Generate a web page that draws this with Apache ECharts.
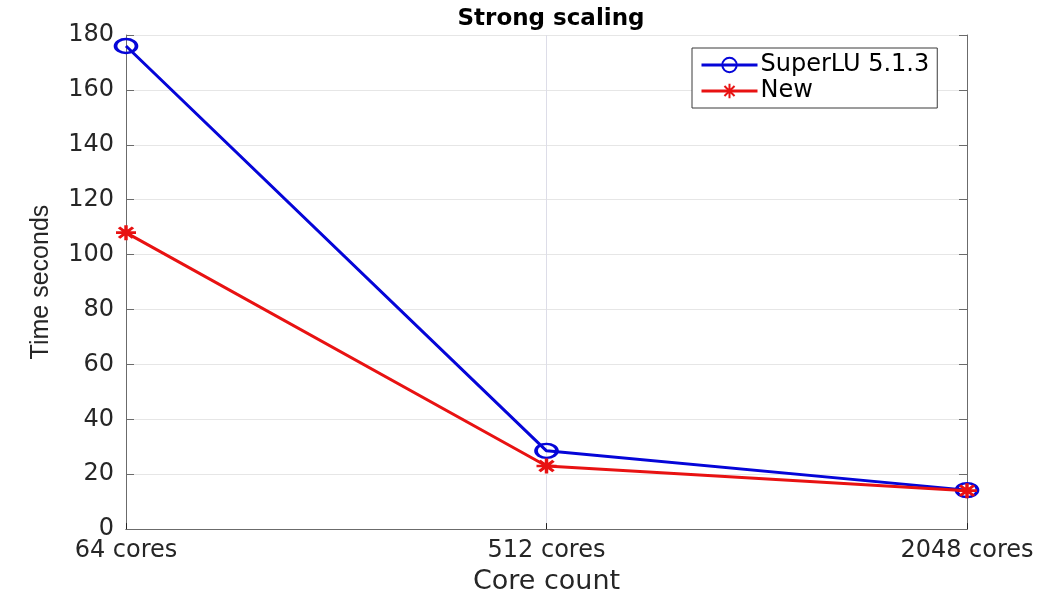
<!DOCTYPE html>
<html>
<head>
<meta charset="utf-8">
<script src="https://cdn.jsdelivr.net/npm/echarts@6/dist/echarts.min.js"></script>
<style>html,body{margin:0;padding:0;background:#fff;}#c{width:1063px;height:600px;}</style>
</head>
<body>
<div id="c"></div>
<script>
const categories = ['64 cores', '512 cores', '2048 cores'];
const superLU = [176, 28.5, 14.2];
const newMethod = [108, 23, 14];
const seriesNames = ['SuperLU 5.1.3', 'New'];
const yTicks = {min: 0, max: 180, interval: 20};

const txt = '#262626';
const axisCol = '#6b6b6b';
const ellipse = 'path://M0,10 A10,10 0 1,1 20,10 A10,10 0 1,1 0,10 Z';
const asterisk = 'path://M10,0L10,20M0,10L20,10M3,3L17,17M17,3L3,17';

const chart = echarts.init(document.getElementById('c'), null, {renderer: 'canvas'});
chart.setOption({
  animation: false,
  backgroundColor: '#fff',
  title: {
    text: 'Strong scaling', left: 546, top: 3, textAlign: 'center',
    textStyle: {fontFamily: 'DejaVu Sans', fontSize: 23, fontWeight: 'bold', color: '#000'}
  },
  grid: {left: 126, right: 96, top: 35, bottom: 66, containLabel: false},
  legend: {
    left: 692, top: 48, orient: 'vertical',
    backgroundColor: '#fff', borderColor: '#3a3a3a', borderWidth: 1,
    padding: [5, 8, 5, 8], itemGap: 2, itemWidth: 56, itemHeight: 18,
    lineStyle: {width: 3},
    textStyle: {fontFamily: 'DejaVu Sans', fontSize: 24, color: '#000', lineHeight: 22, padding: [0, 0, 0, -2]},
    data: seriesNames
  },
  xAxis: [{
    type: 'category', data: categories, boundaryGap: false,
    name: 'Core count', nameLocation: 'middle', nameGap: 36,
    nameTextStyle: {fontFamily: 'DejaVu Sans', fontSize: 27, color: txt},
    axisLine: {lineStyle: {color: axisCol, width: 1}},
    axisTick: {inside: true, length: 6, lineStyle: {color: '#222'}},
    axisLabel: {fontFamily: 'DejaVu Sans', fontSize: 24, color: txt, margin: 10},
    splitLine: {show: true, lineStyle: {color: '#dddde8', width: 1}}
  }, {
    type: 'category', data: categories, boundaryGap: false, position: 'top',
    axisLine: {lineStyle: {color: axisCol, width: 1}},
    axisTick: {show: false}, axisLabel: {show: false}, splitLine: {show: false}
  }],
  yAxis: [{
    type: 'value', min: yTicks.min, max: yTicks.max, interval: yTicks.interval,
    name: 'Time seconds', nameLocation: 'middle', nameGap: 72,
    nameTextStyle: {fontFamily: 'Liberation Sans', fontSize: 25, color: txt},
    axisLine: {show: true, lineStyle: {color: axisCol, width: 1}},
    axisTick: {show: true, inside: true, length: 8, lineStyle: {color: axisCol}},
    axisLabel: {fontFamily: 'DejaVu Sans', fontSize: 24, color: txt, margin: 12},
    splitLine: {show: true, lineStyle: {color: '#e6e6e6', width: 1}}
  }, {
    type: 'value', min: yTicks.min, max: yTicks.max, interval: yTicks.interval, position: 'right',
    axisLine: {show: true, lineStyle: {color: axisCol, width: 1}},
    axisTick: {show: true, inside: true, length: 8, lineStyle: {color: axisCol}},
    axisLabel: {show: false}, splitLine: {show: false}
  }],
  series: [{
    name: seriesNames[0], type: 'line', data: superLU,
    symbol: ellipse, symbolSize: [21, 14], z: 3,
    lineStyle: {color: '#0505d8', width: 3},
    itemStyle: {color: 'rgba(255,255,255,0)', borderColor: '#0505d8', borderWidth: 3},
    emphasis: {disabled: true}
  }, {
    name: seriesNames[1], type: 'line', data: newMethod,
    symbol: asterisk, symbolSize: [20, 15], z: 4,
    lineStyle: {color: '#e81212', width: 3},
    itemStyle: {color: 'rgba(255,255,255,0)', borderColor: '#e81212', borderWidth: 3},
    emphasis: {disabled: true}
  }]
});
</script>
</body>
</html>
